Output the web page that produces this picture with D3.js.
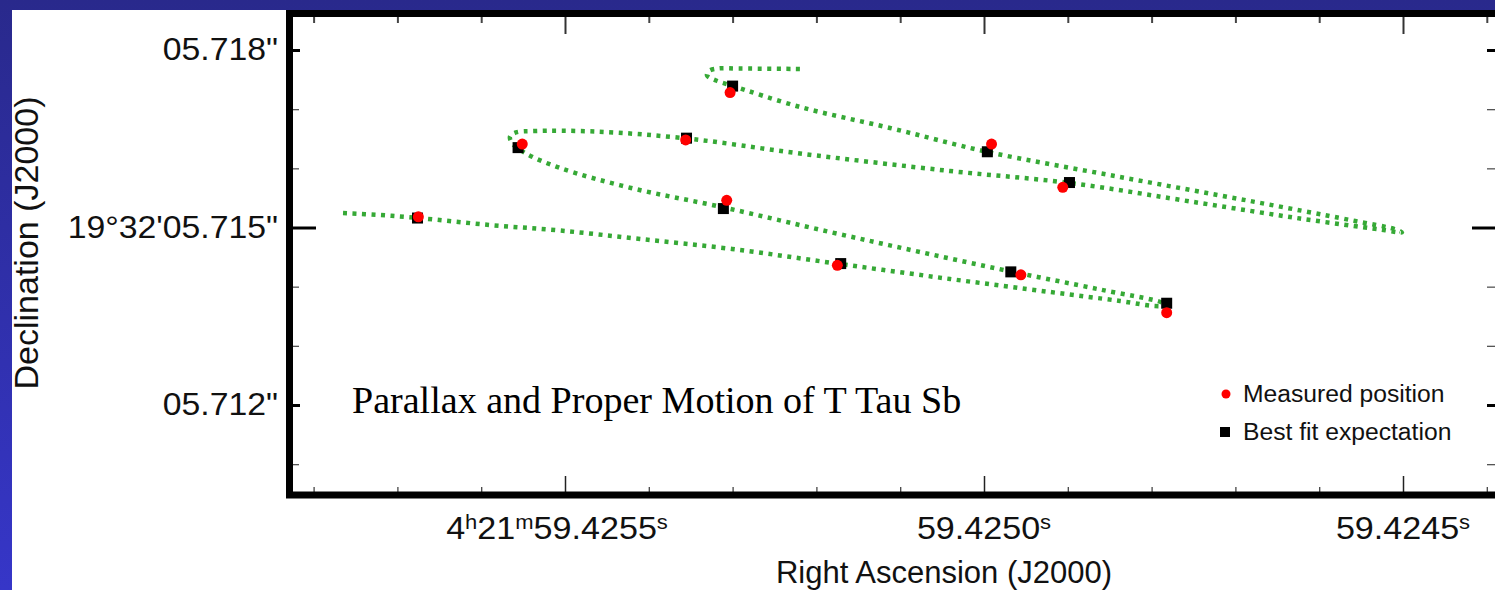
<!DOCTYPE html>
<html>
<head>
<meta charset="utf-8">
<script src="https://cdn.jsdelivr.net/npm/d3@7"></script>
<style>
body { margin: 0; overflow: hidden; background: #fff; }
</style>
</head>
<body>
<div id="chart"></div>
<script>
// positions, RA in seconds (4h21m...), Dec in arcsec (19d32'...)
// order follows the track in time
var measuredRA = [59.425675, 59.425175, 59.424782, 59.424956, 59.425307, 59.425551, 59.425356, 59.424906, 59.424991, 59.425303];
var measuredDec = [5.71518, 5.71436, 5.71356, 5.71420, 5.71546, 5.71641, 5.71648, 5.71568, 5.71641, 5.71728];
var fitRA = [59.425676, 59.425171, 59.424782, 59.424968, 59.425311, 59.425556, 59.425355, 59.424898, 59.424996, 59.425300];
var fitDec = [5.71516, 5.71439, 5.71372, 5.71425, 5.71532, 5.71635, 5.71651, 5.71576, 5.71628, 5.71739];

// best fit track (parallax + proper motion)
var trackRA = [59.4257649, 59.4257208, 59.4256754, 59.4255895, 59.4255060, 59.4254105, 59.4253007, 59.4251718,
    59.4250406, 59.4249212, 59.4248377, 59.4247959, 59.4247816, 59.4247876, 59.4248616, 59.4249678,
    59.4250764, 59.4251838, 59.4253103, 59.4254212, 59.4255060, 59.4255477, 59.4255632, 59.4255656,
    59.4255585, 59.4255358, 59.4254630, 59.4253544, 59.4252196, 59.4250406, 59.4248974, 59.4247422,
    59.4246229, 59.4245274, 59.4245012, 59.4245084, 59.4245632, 59.4246826, 59.4248377, 59.4249952,
    59.4251122, 59.4252196, 59.4252995, 59.4253198, 59.4253305, 59.4253282, 59.4253174, 59.4252912,
    59.4252184];
var trackDec = [5.715245, 5.715211, 5.715161, 5.715042, 5.714949, 5.714806, 5.714637, 5.714383,
    5.714130, 5.713910, 5.713758, 5.713673, 5.713682, 5.713733, 5.713952, 5.714256,
    5.714586, 5.714924, 5.715338, 5.715668, 5.716006, 5.716259, 5.716428, 5.716538,
    5.716606, 5.716631, 5.716622, 5.716504, 5.716251, 5.715955, 5.715752, 5.715414,
    5.715152, 5.714966, 5.714916, 5.714966, 5.715127, 5.715448, 5.715854, 5.716276,
    5.716682, 5.717037, 5.717391, 5.717484, 5.717569, 5.717645, 5.717687, 5.717687,
    5.717679];

// ticks
var raMajor = [59.4255, 59.4250, 59.4245];
var raMinor = [59.4258, 59.4257, 59.4256, 59.4254, 59.4253, 59.4252, 59.4251, 59.4249, 59.4248, 59.4247, 59.4246, 59.4244];
var raLabels = ["4^h21^m59.4255^s", "59.4250^s", "59.4245^s"]; // ^ = next char is superscript
var decMajor = [5.718, 5.715, 5.712];
var decMinor = [5.717, 5.716, 5.714, 5.713, 5.711];
var decLabels = ["05.718\"", "19\u00b032'05.715\"", "05.712\""];

var legendNames = ["Measured position", "Best fit expectation"];
var title = "Parallax and Proper Motion of T Tau Sb";

var W = 1495, H = 590;
var fLeft = 289.5, fTop = 13.5, fRight = 1500.5, fBottom = 495;
var sans = "'Liberation Sans', Arial, Helvetica, sans-serif";
var serif = "'Liberation Serif', 'Times New Roman', serif";

var svg = d3.select("#chart").append("svg")
    .attr("width", W)
    .attr("height", H);

var grad = svg.append("defs").append("linearGradient")
    .attr("id", "bg")
    .attr("x1", 0).attr("y1", 0).attr("x2", 0).attr("y2", 1);
grad.append("stop").attr("offset", "0%").attr("stop-color", "#29298c");
grad.append("stop").attr("offset", "100%").attr("stop-color", "#3636c8");

svg.append("rect").attr("width", W).attr("height", H).attr("fill", "url(#bg)");
svg.append("rect").attr("x", 12).attr("y", 10).attr("width", W - 12).attr("height", H - 10).attr("fill", "#fff");

var x = d3.scaleLinear().domain([59.4255, 59.4245]).range([565, 1403]);
var y = d3.scaleLinear().domain([5.718, 5.712]).range([50, 405]);

// axes (ticks point inward)
function ticks(axis, pos, vals, size, width, color) {
    var g = svg.append("g")
        .attr("transform", pos)
        .call(axis.tickValues(vals).tickSize(-size).tickFormat(""));
    g.select(".domain").remove();
    g.selectAll(".tick line").attr("stroke", color).attr("stroke-width", width);
    return g;
}
ticks(d3.axisBottom(x), "translate(0," + (fBottom - 3) + ")", raMinor, 5, 1.3, "#444");
ticks(d3.axisBottom(x), "translate(0," + (fBottom - 3) + ")", raMajor, 16, 1.5, "#222");
ticks(d3.axisTop(x), "translate(0," + (fTop + 3.5) + ")", raMinor, 6, 2, "#444");
ticks(d3.axisTop(x), "translate(0," + (fTop + 3.5) + ")", raMajor, 17, 2, "#333");
ticks(d3.axisLeft(y), "translate(" + (fLeft + 3.5) + ",0)", decMinor, 6, 1.3, "#555");
ticks(d3.axisLeft(y), "translate(" + (fLeft + 3.5) + ",0)", decMajor, 7, 3, "#000")
    .selectAll(".tick line").attr("x2", function(d) { return d === 5.715 ? 23 : 7; });
ticks(d3.axisRight(y), "translate(" + (fRight - 3.5) + ",0)", decMinor, 10, 1.3, "#555");
ticks(d3.axisRight(y), "translate(" + (fRight - 3.5) + ",0)", decMajor, 10, 3, "#000")
    .selectAll(".tick line").attr("x2", function(d) { return d === 5.715 ? -25 : -10; });

// frame
svg.append("rect")
    .attr("x", fLeft).attr("y", fTop)
    .attr("width", fRight - fLeft).attr("height", fBottom - fTop)
    .attr("fill", "none").attr("stroke", "#000").attr("stroke-width", 7);

// dec labels
svg.selectAll(".declab")
    .data(decMajor)
    .enter()
    .append("text")
    .attr("transform", function(d) { return "translate(278," + (y(d) + 10) + ") scale(1.09,1)"; })
    .attr("text-anchor", "end")
    .attr("font-family", sans)
    .attr("font-size", 31)
    .attr("fill", "#111")
    .text(function(d, i) { return decLabels[i]; });

// ra labels with superscripts
var ralab = svg.selectAll(".ralab")
    .data(raMajor)
    .enter()
    .append("text")
    .attr("transform", function(d, i) { return "translate(" + (x(d) - (i === 0 ? 8 : 0)) + ",539) scale(1.1,1)"; })
    .attr("text-anchor", "middle")
    .attr("font-family", sans)
    .attr("font-size", 31)
    .attr("fill", "#111");
ralab.each(function(d, i) {
    var t = d3.select(this);
    var parts = raLabels[i].split("^");
    parts.forEach(function(p, j) {
        if (j === 0) {
            t.append("tspan").text(p);
        } else {
            t.append("tspan").attr("font-size", 20).attr("dy", -10).text(p.charAt(0));
            t.append("tspan").attr("dy", 10).text(p.slice(1));
        }
    });
});

svg.append("text")
    .attr("transform", "translate(944,583)")
    .attr("text-anchor", "middle")
    .attr("font-family", sans)
    .attr("font-size", 31)
    .attr("fill", "#111")
    .text("Right Ascension (J2000)");

svg.append("text")
    .attr("transform", "translate(38,243) rotate(-90)")
    .attr("text-anchor", "middle")
    .attr("font-family", sans)
    .attr("font-size", 34)
    .attr("fill", "#111")
    .text("Declination (J2000)");

// track
var track = trackRA.map(function(d, i) { return [d, trackDec[i]]; });
var line = d3.line()
    .x(function(d) { return x(d[0]); })
    .y(function(d) { return y(d[1]); })
    .curve(d3.curveCatmullRom.alpha(0.5));
svg.append("path")
    .attr("d", line(track))
    .attr("fill", "none")
    .attr("stroke", "#36a936")
    .attr("stroke-width", 4.5)
    .attr("stroke-dasharray", "4,5.5");

// best fit squares
var sq = 11;
svg.selectAll(".fit")
    .data(fitRA)
    .enter()
    .append("rect")
    .attr("x", function(d) { return x(d) - sq / 2; })
    .attr("y", function(d, i) { return y(fitDec[i]) - sq / 2; })
    .attr("width", sq)
    .attr("height", sq)
    .attr("fill", "#000");

// measured
svg.selectAll(".meas")
    .data(measuredRA)
    .enter()
    .append("circle")
    .attr("cx", function(d) { return x(d); })
    .attr("cy", function(d, i) { return y(measuredDec[i]); })
    .attr("r", 5.5)
    .attr("fill", "#ff0000");

// title
svg.append("text")
    .attr("transform", "translate(352,413) scale(1.015,1)")
    .attr("font-family", serif)
    .attr("font-size", 37.5)
    .attr("fill", "#000")
    .text(title);

// legend
var lg = svg.append("g");
lg.append("circle").attr("cx", 1226).attr("cy", 394).attr("r", 4.5).attr("fill", "#ff0000");
lg.append("rect").attr("x", 1220).attr("y", 427).attr("width", 10).attr("height", 10).attr("fill", "#000");
lg.selectAll("text")
    .data(legendNames)
    .enter()
    .append("text")
    .attr("transform", function(d, i) { return "translate(1243," + (402 + i * 38) + ") scale(1.05,1)"; })
    .attr("font-family", sans)
    .attr("font-size", 23.5)
    .attr("fill", "#111")
    .text(function(d) { return d; });
</script>
</body>
</html>
